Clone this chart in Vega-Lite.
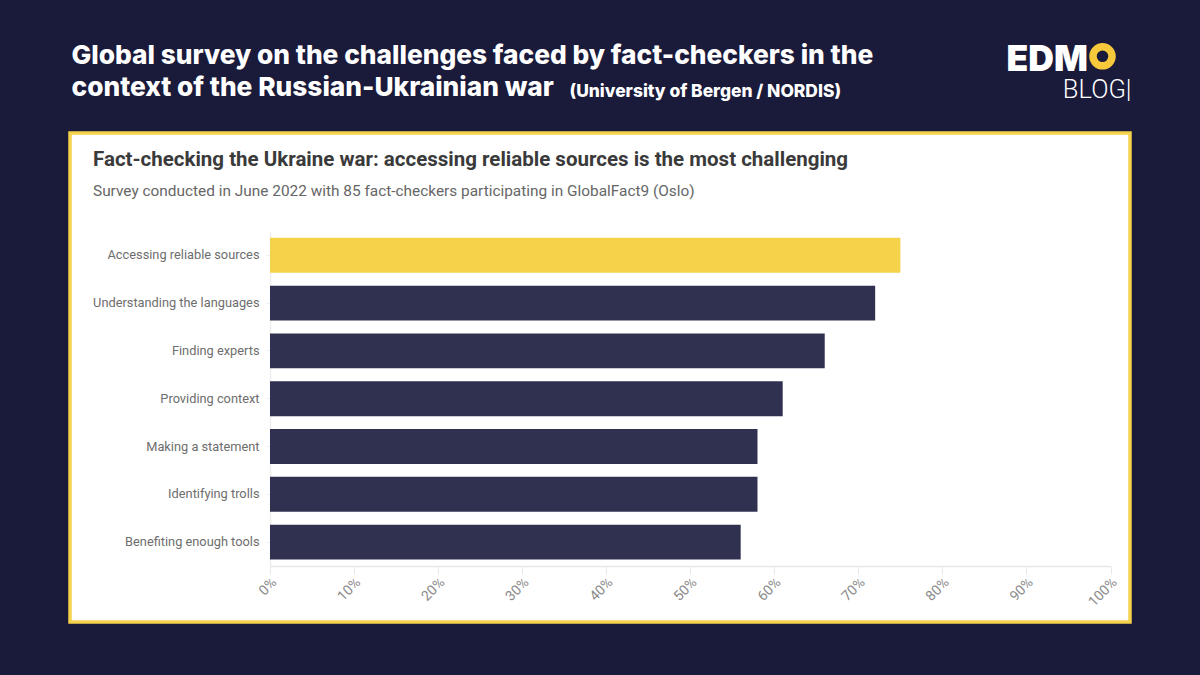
{"$schema":"https://vega.github.io/schema/vega-lite/v6.json","autosize":{"type":"none"},"padding":{"left":70,"top":133,"right":70,"bottom":53},"width":1060,"height":489,"background":"#1a1a3a","view":{"fill":"#ffffff","stroke":"#f5d24b","strokeWidth":3.5},
"title":{"text":"Fact-checking the Ukraine war: accessing reliable sources is the most challenging","subtitle":"Survey conducted in June 2022 with 85 fact-checkers participating in GlobalFact9 (Oslo)","anchor":"start","frame":"group","orient":"top","offset":0,"dx":23,"dy":168,"font":"Roboto","fontSize":20.5,"fontWeight":"bold","color":"#3a3a3a","subtitleFont":"Roboto","subtitleFontSize":15.4,"subtitleColor":"#666666","subtitlePadding":14},
"data":{"values":[{"challenge":"Accessing reliable sources","share":75,"group":"top"},{"challenge":"Understanding the languages","share":72,"group":"other"},{"challenge":"Finding experts","share":66,"group":"other"},{"challenge":"Providing context","share":61,"group":"other"},{"challenge":"Making a statement","share":58,"group":"other"},{"challenge":"Identifying trolls","share":58,"group":"other"},{"challenge":"Benefiting enough tools","share":56,"group":"other"}]},
"layer":[
{"mark":{"type":"bar"},"encoding":{"color":{"field":"group","type":"nominal","legend":null,"scale":{"domain":["top","other"],"range":["#f6d24a","#303150"]}},
"x":{"field":"share","type":"quantitative","scale":{"domain":[0,100],"range":[200,1040.5]},"axis":{"orient":"bottom","offset":-56,"values":[0,10,20,30,40,50,60,70,80,90,100],"labelExpr":"datum.value + '%'","labelAngle":-45,"labelAlign":"right","labelBaseline":"middle","labelFont":"Roboto","labelFontSize":14,"labelColor":"#8a8a8a","labelPadding":6,"labelOffset":4,"tickColor":"#e8e8e8","tickSize":8,"domainColor":"#e8e8e8","domainWidth":1.5,"grid":false,"title":"(University of Bergen / NORDIS)","titleFont":"Inter","titleFontWeight":800,"titleFontSize":17.4,"titleColor":"#ffffff","titleX":499,"titleY":-470,"titleAlign":"left","titleAnchor":null,"titleBaseline":"alphabetic"}},
"y":{"field":"challenge","type":"nominal","sort":null,"scale":{"domain":["Accessing reliable sources","Understanding the languages","Finding experts","Providing context","Making a statement","Identifying trolls","Benefiting enough tools"],"range":[98.4,433],"paddingInner":0.27,"paddingOuter":0.135},"axis":{"orient":"left","offset":-200,"labelFont":"Roboto","labelFontSize":12.8,"labelColor":"#6e6e6e","labelPadding":7,"tickColor":"#eeeeee","tickSize":4,"domainColor":"#eeeeee","domainWidth":1.5,"grid":false,"title":"EDM","titleFont":"Inter","titleFontWeight":900,"titleFontSize":35.5,"titleColor":"#ffffff","titleAngle":0,"titleX":736,"titleY":-63,"titleAlign":"left","titleAnchor":null,"titleBaseline":"alphabetic"}}}},
{"mark":{"type":"bar","opacity":0},"encoding":{
"x":{"field":"share","type":"quantitative","axis":{"orient":"top","domain":false,"ticks":false,"labels":false,"grid":false,"title":["Global survey on the challenges faced by fact-checkers in the","context of the Russian-Ukrainian war"],"titleFont":"Inter","titleFontWeight":800,"titleFontSize":26.3,"titleLineHeight":32.5,"titleColor":"#ffffff","titleX":1,"titleY":-70,"titleAlign":"left","titleAnchor":null,"titleBaseline":"alphabetic"}},
"y":{"field":"challenge","type":"nominal","sort":null,"axis":{"orient":"right","domain":false,"ticks":false,"labels":false,"grid":false,"title":"BLOG|","titleFont":"Roboto","titleFontWeight":300,"titleFontSize":25.5,"titleColor":"#ffffff","titleAngle":0,"titleX":1,"titleY":-36,"titleAlign":"right","titleAnchor":null,"titleBaseline":"alphabetic"}}}},
{"data":{"values":[{"logo":"O"}]},"mark":{"type":"point","filled":false,"stroke":"#f6c93c","strokeWidth":7.5,"size":363,"opacity":1,"yOffset":-199},"encoding":{"x":{"datum":99.05,"type":"quantitative","axis":null},"y":{"datum":"Accessing reliable sources","type":"nominal","axis":null}}}
],
"resolve":{"axis":{"x":"independent","y":"independent"}}}
